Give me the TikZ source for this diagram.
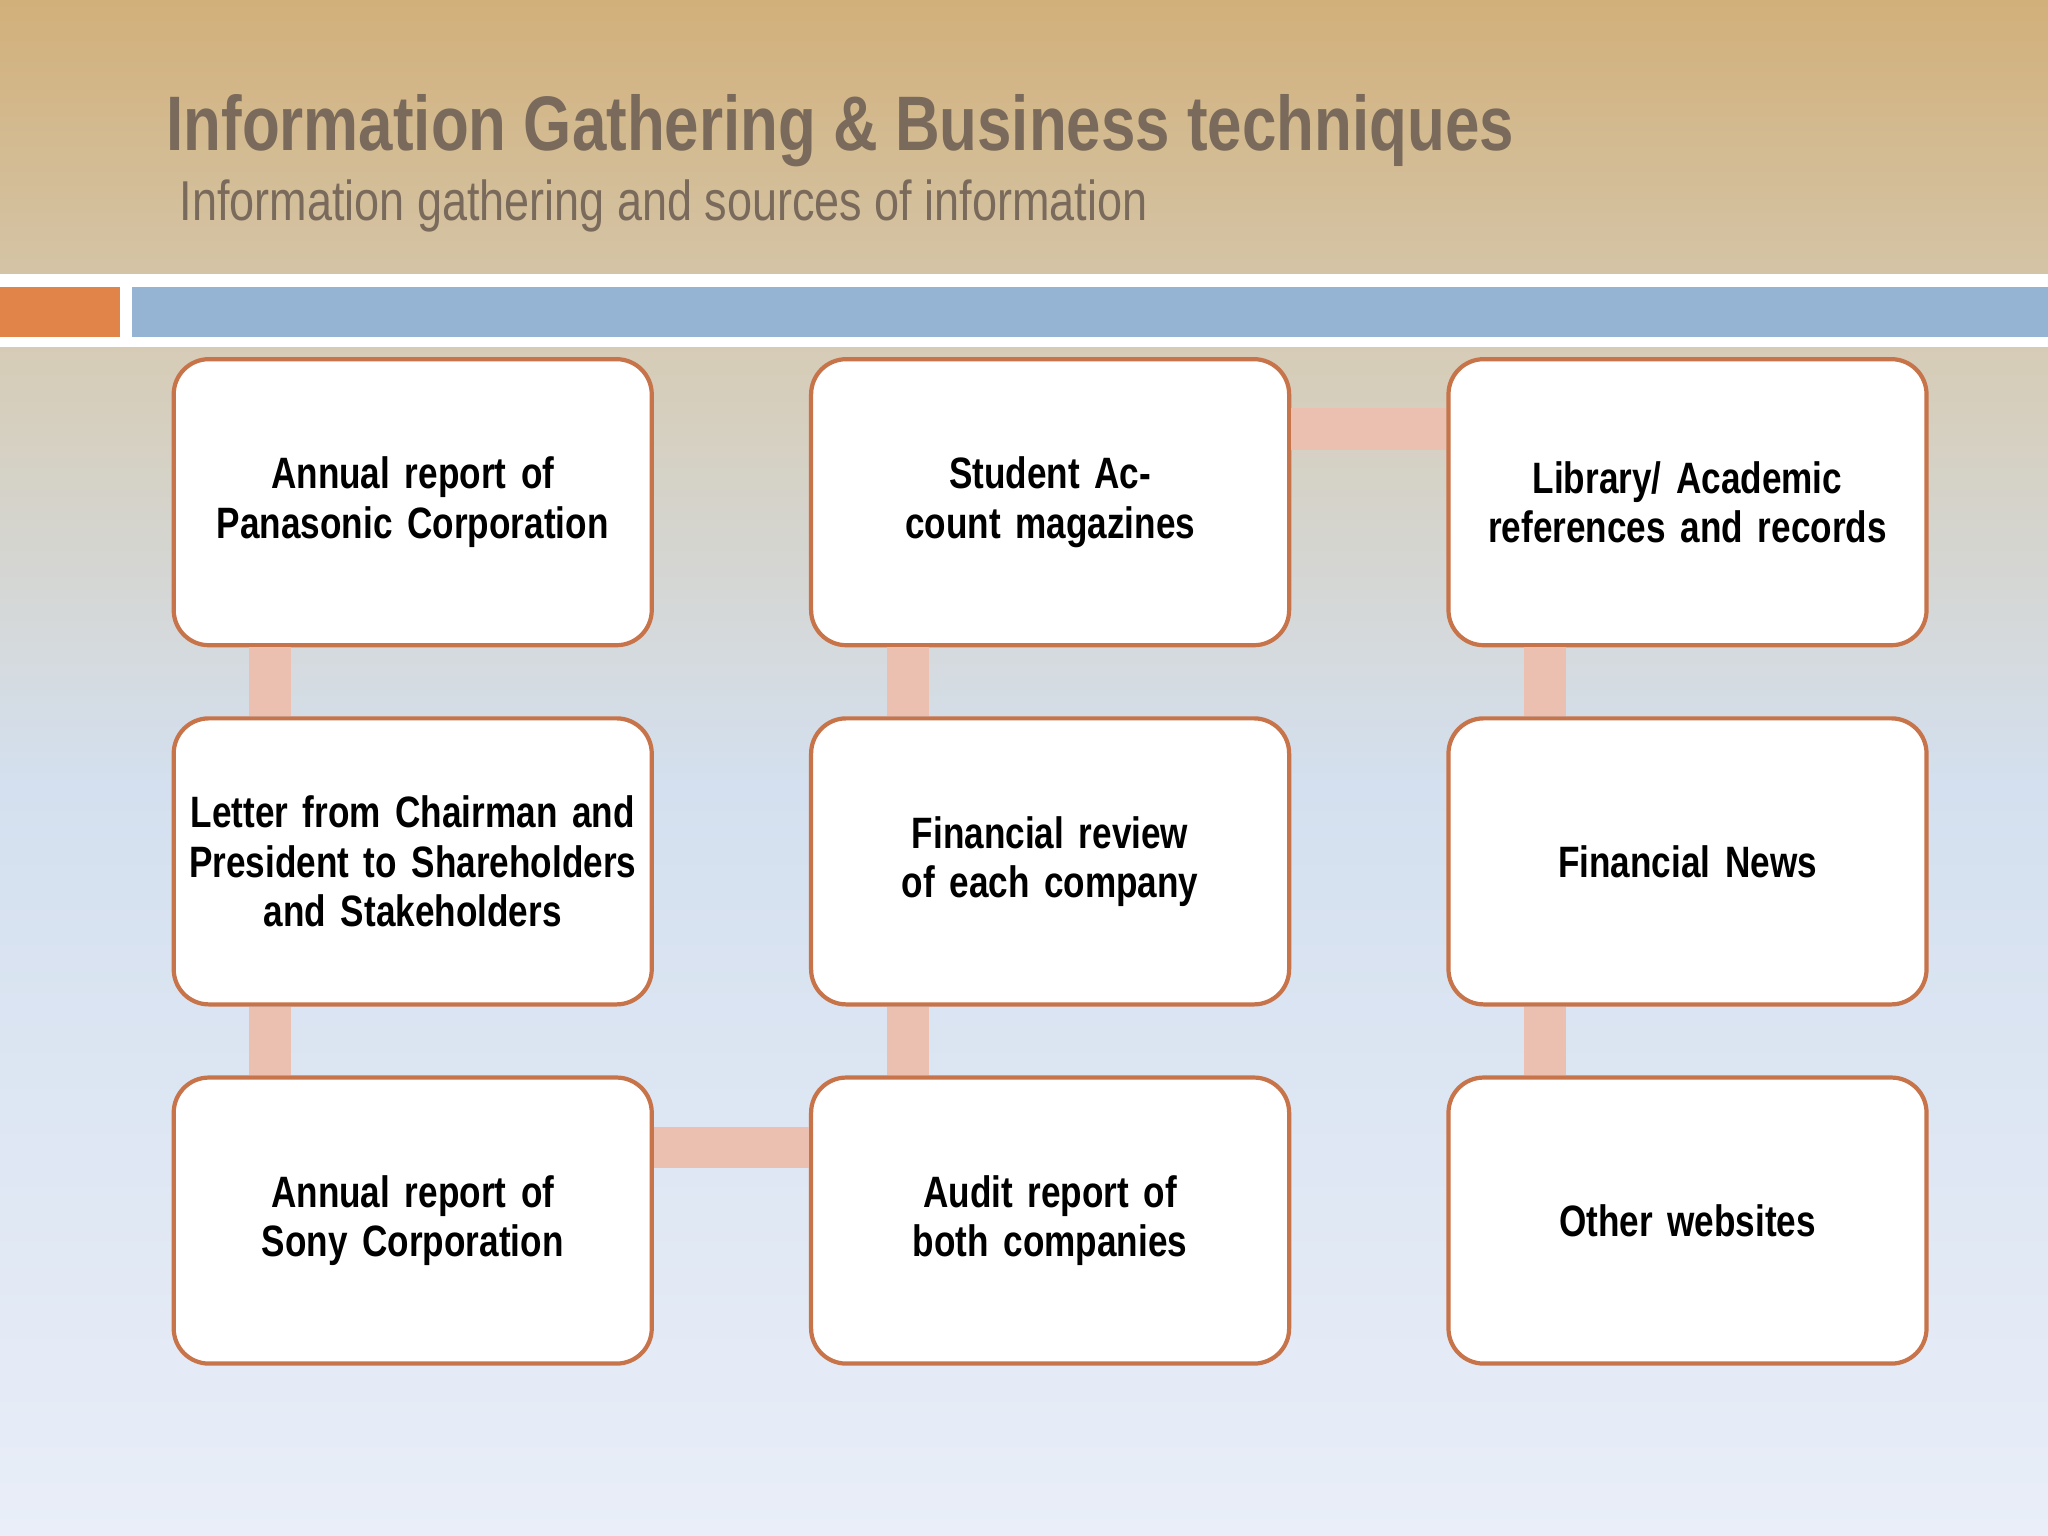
\documentclass[tikz,border=0pt]{standalone}
\usepackage{fontspec}
\setmainfont[FakeStretch=0.8]{Liberation Sans}
\definecolor{tanT}{HTML}{D2B07A}
\definecolor{tanB}{HTML}{D4C4A6}
\definecolor{bgA}{HTML}{D6CCB6}
\definecolor{bgB}{HTML}{D4E0EF}
\definecolor{bgC}{HTML}{E9EEF8}
\definecolor{orangeBar}{HTML}{E0844A}
\definecolor{blueBar}{HTML}{95B3D3}
\definecolor{edge}{HTML}{C8744A}
\definecolor{link}{HTML}{EBC0B0}
\definecolor{titleC}{HTML}{7A6A5C}
\tikzset{
  box/.style={draw=edge, line width=1.2pt, fill=white, rounded corners=10pt, minimum width=366*0.01306cm, minimum height=219*0.01306cm, align=center, font=\bfseries\fontsize{12.5}{14}\selectfont, text width=4.5cm},
  lnk/.style={draw=link, line width=32*0.01306cm}
}
\begin{document}
\begin{tikzpicture}[x=0.01306cm,y=-0.01306cm]
\useasboundingbox (0,0) rectangle (1568,1176);
\shade[top color=tanT, bottom color=tanB] (0,0) rectangle (1568,210);
\fill[white] (0,210) rectangle (1568,266);
\fill[orangeBar] (0,220) rectangle (92,258);
\fill[blueBar] (101,220) rectangle (1568,258);
\shade[top color=bgA, bottom color=bgB] (0,266) rectangle (1568,600);
\shade[top color=bgB, bottom color=bgC] (0,600) rectangle (1568,1176);
\node[anchor=west, text=titleC, font=\bfseries\fontsize{22}{26}\selectfont] (title) at (118,100) {Information Gathering \& Business techniques};
\node[anchor=west, text=titleC, font=\fontsize{16}{19}\selectfont] (sub) at (128,158) {Information gathering and sources of information};
\node[box] (a1) at (316,384.5) {Annual report of Panasonic Corporation};
\node[box] (a2) at (804,384.5) {Student Account magazines};
\node[box] (a3) at (1292,384.5) {Library/ Academic references and records};
\node[box] (b1) at (316,659.5) {Letter from Chairman and President to Shareholders and Stakeholders};
\node[box] (b2) at (804,659.5) {Financial review of each company};
\node[box] (b3) at (1292,659.5) {Financial News};
\node[box] (c1) at (316,934.5) {Annual report of Sony Corporation};
\node[box] (c2) at (804,934.5) {Audit report of both companies};
\node[box] (c3) at (1292,934.5) {Other websites};
\draw[lnk] ([xshift=-109*0.01306cm]a1.south) -- ([xshift=-109*0.01306cm]b1.north);
\draw[lnk] ([xshift=-109*0.01306cm]b1.south) -- ([xshift=-109*0.01306cm]c1.north);
\draw[lnk] ([xshift=-109*0.01306cm]a2.south) -- ([xshift=-109*0.01306cm]b2.north);
\draw[lnk] ([xshift=-109*0.01306cm]b2.south) -- ([xshift=-109*0.01306cm]c2.north);
\draw[lnk] ([xshift=-109*0.01306cm]a3.south) -- ([xshift=-109*0.01306cm]b3.north);
\draw[lnk] ([xshift=-109*0.01306cm]b3.south) -- ([xshift=-109*0.01306cm]c3.north);
\draw[lnk] ([yshift=56*0.01306cm]a2.east) -- ([yshift=56*0.01306cm]a3.west);
\draw[lnk] ([yshift=56*0.01306cm]c1.east) -- ([yshift=56*0.01306cm]c2.west);
\end{tikzpicture}
\end{document}
